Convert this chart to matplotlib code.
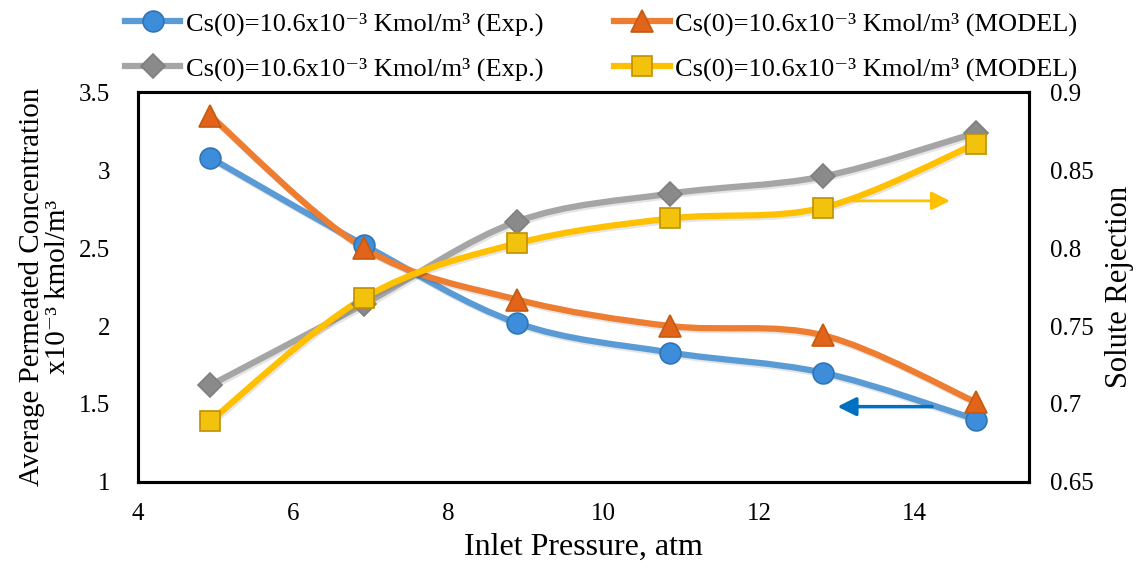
import numpy as np
import matplotlib
matplotlib.use("Agg")
import matplotlib.pyplot as plt
from matplotlib.path import Path
from matplotlib.patches import PathPatch
from matplotlib.lines import Line2D
import matplotlib.patheffects as pe

plt.rcParams["font.family"] = ["Liberation Serif", "DejaVu Serif"]

# inlet pressure, atm (5..15 bar)
pressure = [4.93, 6.91, 8.88, 10.86, 12.83, 14.80]

# left axis: average permeated concentration x10^-3 kmol/m3
conc_exp = [3.08, 2.52, 2.02, 1.83, 1.70, 1.40]
conc_model = [3.35, 2.50, 2.17, 2.00, 1.94, 1.51]

# right axis: solute rejection
rej_exp = [0.712, 0.764, 0.817, 0.835, 0.846, 0.874]
rej_model = [0.689, 0.768, 0.803, 0.819, 0.826, 0.867]

label_exp = "Cs(0)=10.6x10\u207b\u00b3 Kmol/m\u00b3 (Exp.)"
label_model = "Cs(0)=10.6x10\u207b\u00b3 Kmol/m\u00b3 (MODEL)"

x_ticks = [4, 6, 8, 10, 12, 14]
left_ticks = [1, 1.5, 2, 2.5, 3, 3.5]
right_ticks = [0.65, 0.7, 0.75, 0.8, 0.85, 0.9]


def smooth_path(x, y):
    # excel-style smoothed line as cubic bezier segments
    pts = np.column_stack([x, y]).astype(float)
    n = len(pts)
    verts = [pts[0]]
    codes = [Path.MOVETO]
    for i in range(n - 1):
        p0 = pts[max(i - 1, 0)]
        p1 = pts[i]
        p2 = pts[i + 1]
        p3 = pts[min(i + 2, n - 1)]
        verts += [p1 + (p2 - p0) / 6, p2 - (p3 - p1) / 6, p2]
        codes += [Path.CURVE4] * 3
    return Path(verts, codes)


def draw_series(ax, x, y, color, marker, mface, medge, ms):
    patch = PathPatch(smooth_path(x, y), facecolor="none", edgecolor=color,
                      lw=4.5, capstyle="round", zorder=2)
    patch.set_path_effects([pe.SimpleLineShadow(offset=(1, -1.5), alpha=0.1),
                            pe.Normal()])
    ax.add_patch(patch)
    ax.plot(x, y, ls="none", marker=marker, ms=ms, mfc=mface, mec=medge,
            mew=1.2, zorder=3)
    return Line2D([], [], color=color, lw=4.5, marker=marker, ms=ms,
                  mfc=mface, mec=medge, mew=1.2)


fig = plt.figure(figsize=(11.44, 5.69), dpi=100)
ax = fig.add_axes([0.1206, 0.153, 0.779, 0.685])
ax2 = ax.twinx()

h_blue = draw_series(ax, pressure, conc_exp, "#5B9BD5", "o", "#3E8DDB", "#2E75B6", 15)
h_orange = draw_series(ax, pressure, conc_model, "#ED7D31", "^", "#E2631A", "#C55A11", 16)
h_gray = draw_series(ax2, pressure, rej_exp, "#A5A5A5", "D", "#8A8A8A", "#7F7F7F", 12)
h_yellow = draw_series(ax2, pressure, rej_model, "#FFC000", "s", "#F2C20C", "#BF9000", 14)

# direction arrows
ax2.annotate("", xy=(14.46, 0.8303), xytext=(13.21, 0.8303),
             arrowprops=dict(arrowstyle="-|>", color="#FFC000", lw=2,
                             mutation_scale=28, shrinkA=0, shrinkB=0))
ax.annotate("", xy=(13.01, 1.483), xytext=(14.23, 1.483),
            arrowprops=dict(arrowstyle="-|>", color="#0070C0", lw=2.5,
                            mutation_scale=28, shrinkA=0, shrinkB=0))

ax.set_xlim(4, 15.48)
ax.set_ylim(1, 3.5)
ax2.set_ylim(0.65, 0.9)
ax.set_xticks(x_ticks)
ax.set_yticks(left_ticks)
ax.set_yticklabels([f"{v:g}" for v in left_ticks])
ax2.set_yticks(right_ticks)
ax2.set_yticklabels([f"{v:g}" for v in right_ticks])

ax.tick_params(axis="x", length=0, pad=15, labelsize=18)
ax.tick_params(axis="y", length=0, pad=20, labelsize=18)
ax2.tick_params(axis="y", length=0, pad=15, labelsize=18)

for a in (ax, ax2):
    for s in a.spines.values():
        s.set_linewidth(2.2)
        s.set_color("black")

ax.set_xlabel("Inlet Pressure, atm", fontsize=23, labelpad=6)
ax.set_ylabel("Average Permeated Concentration\nx10\u207b\u00b3 kmol/m\u00b3",
              fontsize=21, labelpad=6, linespacing=1.0)
ax2.set_ylabel("Solute Rejection", fontsize=22, labelpad=8)

fig.legend([h_blue, h_gray, h_orange, h_yellow],
           [label_exp, label_exp, label_model, label_model],
           loc="upper left", bbox_to_anchor=(0.1, 0.998), ncol=2,
           frameon=False, fontsize=19, handlelength=2.1, handletextpad=0.2,
           columnspacing=2.7, labelspacing=0.8, borderaxespad=0)

fig.savefig("out.png", dpi=100)
